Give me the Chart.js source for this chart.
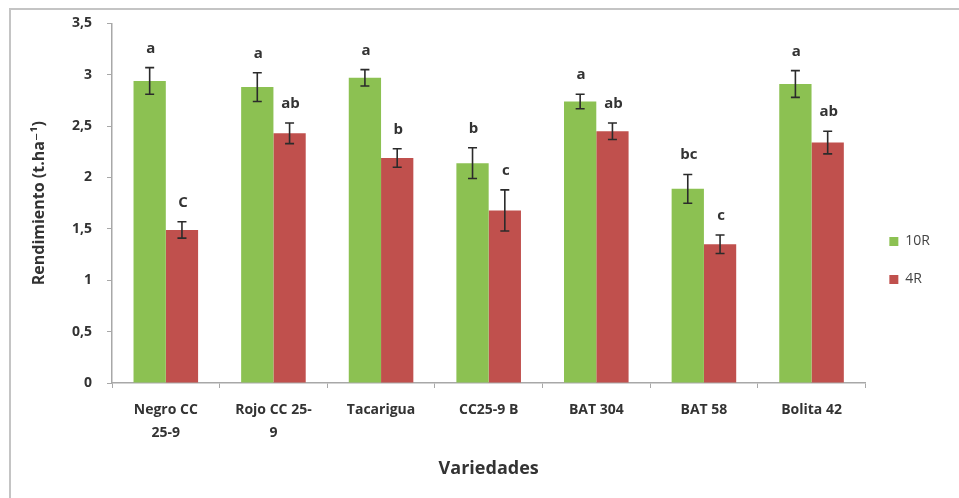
<!DOCTYPE html>
<html>
<head>
<meta charset="utf-8">
<script src="https://cdn.jsdelivr.net/npm/chart.js@4"></script>
<style>
  html, body { margin: 0; padding: 0; background: #fff; }
  canvas { display: block; }
</style>
</head>
<body>
<canvas id="cnvChart" width="959" height="498"></canvas>
<script>
let varieties = [['Negro CC', '25-9'], ['Rojo CC 25-', '9'], 'Tacarigua', 'CC25-9 B', 'BAT 304', 'BAT 58', 'Bolita 42']
let yield10R = [2.94, 2.88, 2.97, 2.14, 2.74, 1.89, 2.91]
let err10R = [0.13, 0.14, 0.08, 0.15, 0.07, 0.14, 0.13]
let letters10R = ['a', 'a', 'a', 'b', 'a', 'bc', 'a']
let yield4R = [1.49, 2.43, 2.19, 1.68, 2.45, 1.35, 2.34]
let err4R = [0.08, 0.1, 0.09, 0.2, 0.08, 0.09, 0.11]
let letters4R = ['C', 'ab', 'b', 'c', 'ab', 'c', 'ab']
let yTicks = [0, 0.5, 1, 1.5, 2, 2.5, 3, 3.5]

const FONT = '"Open Sans", "DejaVu Sans", sans-serif'

// frame around the whole chart, like the excel chart area
const framePlugin = {
  id: 'frame',
  beforeDraw(chart) {
    let ctx = chart.ctx
    ctx.save()
    ctx.fillStyle = '#fff'
    ctx.fillRect(0, 0, chart.width, chart.height)
    ctx.strokeStyle = '#c4c4c4'
    ctx.lineWidth = 2
    ctx.strokeRect(10, 9, chart.width + 10, chart.height + 10)
    ctx.restore()
  },
}

// error bars + significance letters
const errorPlugin = {
  id: 'errorBars',
  afterDatasetsDraw(chart) {
    let ctx = chart.ctx
    let y = chart.scales.y
    let errs = [err10R, err4R]
    let letters = [letters10R, letters4R]
    ctx.save()
    chart.data.datasets.forEach((ds, di) => {
      let meta = chart.getDatasetMeta(di)
      meta.data.forEach((bar, i) => {
        let v = ds.data[i]
        let top = y.getPixelForValue(v + errs[di][i])
        let bot = y.getPixelForValue(v - errs[di][i])
        ctx.strokeStyle = '#2b2b2b'
        ctx.lineWidth = 1.6
        ctx.beginPath()
        ctx.moveTo(bar.x, top)
        ctx.lineTo(bar.x, bot)
        ctx.moveTo(bar.x - 4.5, top)
        ctx.lineTo(bar.x + 4.5, top)
        ctx.moveTo(bar.x - 4.5, bot)
        ctx.lineTo(bar.x + 4.5, bot)
        ctx.stroke()
        ctx.fillStyle = '#333'
        ctx.font = 'bold 15px ' + FONT
        ctx.textAlign = 'center'
        ctx.textBaseline = 'alphabetic'
        ctx.fillText(letters[di][i], bar.x + 1, top - 15)
      })
    })
    ctx.restore()
  },
}

let ctx = document.getElementById('cnvChart').getContext('2d')
let chart = new Chart(ctx, {
  type: 'bar',
  data: {
    labels: varieties,
    datasets: [
      {
        label: '10R',
        backgroundColor: '#8cc152',
        data: yield10R,
        categoryPercentage: 0.6,
        barPercentage: 1.0,
      },
      {
        label: '4R',
        backgroundColor: '#c0504d',
        data: yield4R,
        categoryPercentage: 0.6,
        barPercentage: 1.0,
      },
    ],
  },
  options: {
    responsive: false,
    animation: false,
    layout: { padding: { left: 12, top: 23, right: 19, bottom: 0 } },
    plugins: {
      tooltip: { enabled: false },
      legend: {
        position: 'right',
        labels: {
          boxWidth: 9,
          boxHeight: 9,
          padding: 24,
          color: '#444',
          font: { family: FONT, size: 14 },
        },
      },
    },
    scales: {
      x: {
        afterFit: (s) => { s.height = 115 },
        grid: { drawOnChartArea: false, tickLength: 5, color: '#a8a8a8' },
        border: { color: '#a8a8a8', width: 1.5 },
        ticks: {
          color: '#333',
          padding: 11,
          maxRotation: 0,
          autoSkip: false,
          font: { family: FONT, size: 14, weight: 'bold', lineHeight: 1.6 },
        },
        title: {
          display: true,
          text: 'Variedades',
          color: '#333',
          padding: { top: 0, bottom: 18 },
          font: { family: FONT, size: 18, weight: 'bold' },
        },
      },
      y: {
        min: 0,
        max: 3.5,
        afterFit: (s) => { s.width = 100 },
        afterBuildTicks: (s) => { s.ticks = yTicks.map((v) => ({ value: v })) },
        grid: { drawOnChartArea: false, tickLength: 5, color: '#a8a8a8' },
        border: { color: '#a8a8a8', width: 1.5 },
        ticks: {
          color: '#333',
          padding: 15,
          font: { family: FONT, size: 14, weight: 'bold' },
          callback: (v) => String(v).replace('.', ','),
        },
        title: {
          display: true,
          text: 'Rendimiento (t.ha⁻¹)',
          color: '#333',
          padding: { top: 18, bottom: 0 },
          font: { family: FONT, size: 16, weight: 'bold' },
        },
      },
    },
  },
  plugins: [framePlugin, errorPlugin],
})
</script>
</body>
</html>
